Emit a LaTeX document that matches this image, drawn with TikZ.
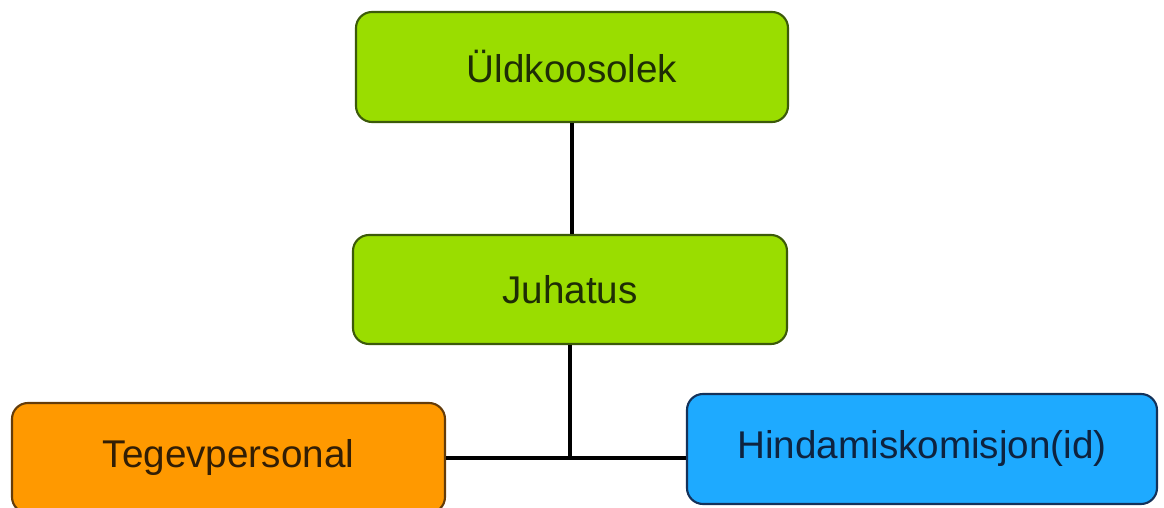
\documentclass[tikz,border=0pt]{standalone}
\usepackage{fontspec}
\setmainfont{Liberation Sans}
\usetikzlibrary{positioning, calc}
\definecolor{boardGreen}{RGB}{154, 221, 0}
\definecolor{boardGreenDark}{RGB}{60, 90, 10}
\definecolor{staffOrange}{RGB}{255, 153, 0}
\definecolor{staffOrangeDark}{RGB}{100, 60, 10}
\definecolor{evalBlue}{RGB}{30, 170, 255}
\definecolor{evalBlueDark}{RGB}{20, 50, 90}

\begin{document}
\begin{tikzpicture}[
    unit/.style={draw, line width=1.2pt, rounded corners=0.32cm, minimum height=2.2cm, font=\fontsize{22}{26}\selectfont},
    link/.style={line width=2.2pt}
]
    \useasboundingbox (0,0) rectangle (23.28,10.16);
    % Top levels
    \node[unit, fill=boardGreen, draw=boardGreenDark, text=boardGreenDark!50!black, minimum width=8.64cm] at (11.44,8.82) (uld) {Üldkoosolek};
    \node[unit, fill=boardGreen, draw=boardGreenDark, text=boardGreenDark!50!black, minimum width=8.68cm, minimum height=2.18cm] at (11.40,4.37) (juh) {Juhatus};

    % Bottom level
    \node[unit, fill=staffOrange, draw=staffOrangeDark, text=staffOrangeDark!50!black, minimum width=8.66cm] at (4.57,1.0) (teg) {Tegevpersonal};
    \node[unit, fill=evalBlue, draw=evalBlueDark, text=evalBlueDark!70!black, minimum width=9.4cm] at (18.44,1.18) (hin) {Hindamiskomisjon(id)};

    % Lines
    \coordinate (jn) at (juh.south |- teg.east);
    \draw[link] (uld) -- (uld |- juh.north);
    \draw[link] (juh) -- (jn);
    \draw[link] (teg.east) -- (teg.east -| hin.west);
\end{tikzpicture}
\end{document}
